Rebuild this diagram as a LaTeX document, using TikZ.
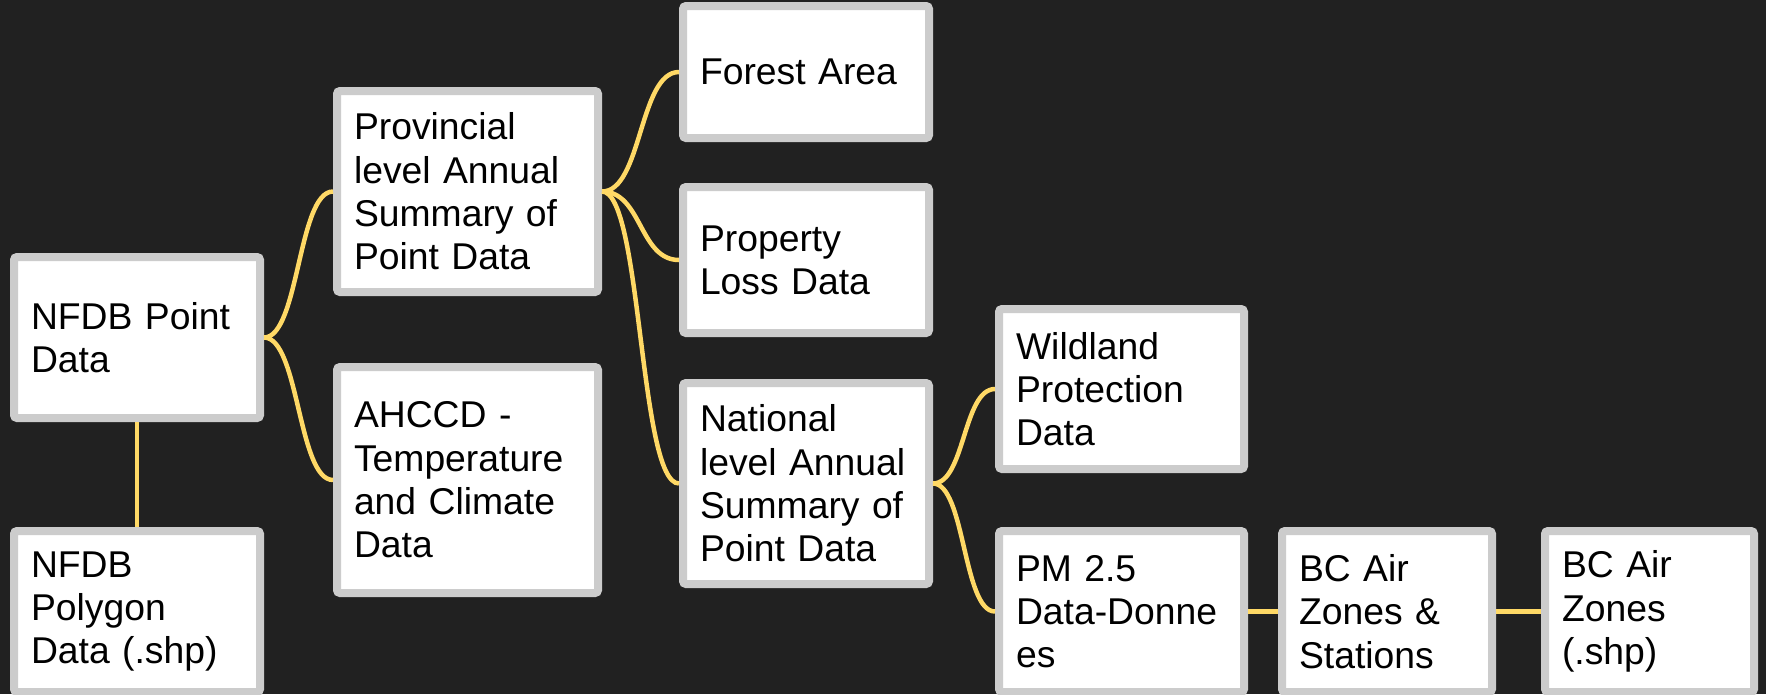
\documentclass[tikz,border=0pt]{standalone}
\usepackage{fontspec}
\setmainfont{Liberation Sans}
\usepackage{tikz}
\usetikzlibrary{positioning}
\definecolor{bgdark}{HTML}{212121}
\definecolor{boxgray}{HTML}{CCCCCC}
\definecolor{linkyellow}{HTML}{FFD966}

\begin{document}
\begin{tikzpicture}[x=1pt,y=-1pt]
  \tikzstyle{box}=[draw=boxgray,fill=white,line width=8pt,rounded corners=3pt,outer sep=4pt,inner xsep=17pt,align=left,text=black,font=\fontsize{37.3}{43.3}\selectfont]
  \tikzstyle{link}=[draw=linkyellow,line width=4.5pt]

  \fill[bgdark] (0,0) rectangle (1766,694);
  \useasboundingbox (0,0) rectangle (1766,694);

  \node[box,text width=212pt,minimum height=161pt] (pointdata)   at (137,337.5)    {NFDB Point\\Data};
  \node[box,text width=212pt,minimum height=161pt] (polydata)    at (137,611.5)    {NFDB\\Polygon\\Data (.shp)};
  \node[box,text width=227pt,minimum height=201pt] (provsum)     at (467.5,191.5)  {Provincial\\level Annual\\Summary of\\Point Data};
  \node[box,text width=227pt,minimum height=226pt] (ahccd)       at (467.5,480)    {AHCCD -\\Temperature\\and Climate\\Data};
  \node[box,text width=212pt,minimum height=132pt] (forest)      at (806,72)       {Forest Area};
  \node[box,text width=212pt,minimum height=146pt] (property)    at (806,260)      {Property\\Loss Data};
  \node[box,text width=212pt,minimum height=201pt] (natsum)      at (806,483.5)    {National\\level Annual\\Summary of\\Point Data};
  \node[box,text width=211pt,minimum height=160pt] (wildland)    at (1121.5,389)   {Wildland\\Protection\\Data};
  \node[box,text width=211pt,minimum height=161pt] (pmdata)      at (1121.5,611.5) {PM 2.5\\Data-Donne\\es};
  \node[box,text width=176pt,minimum height=161pt] (airstations) at (1387,611.5)   {BC Air\\Zones \&\\Stations};
  \node[box,text width=175pt,minimum height=161pt] (airzones)    at (1649.5,611.5) {BC Air\\Zones\\(.shp)};

  % links
  \draw[link] (pointdata.east) .. controls +(35,0) and +(-35,0) .. (provsum.west);
  \draw[link] (pointdata.east) .. controls +(35,0) and +(-35,0) .. (ahccd.west);
  \draw[link] (pointdata.south) -- (polydata.north);
  \draw[link] (provsum.east) .. controls +(40,0) and +(-40,0) .. (forest.west);
  \draw[link] (provsum.east) .. controls +(40,0) and +(-40,0) .. (property.west);
  \draw[link] (provsum.east) .. controls +(40,0) and +(-40,0) .. (natsum.west);
  \draw[link] (natsum.east) .. controls +(32,0) and +(-32,0) .. (wildland.west);
  \draw[link] (natsum.east) .. controls +(32,0) and +(-32,0) .. (pmdata.west);
  \draw[link] (pmdata) -- (airstations);
  \draw[link] (airstations) -- (airzones);
\end{tikzpicture}
\end{document}
